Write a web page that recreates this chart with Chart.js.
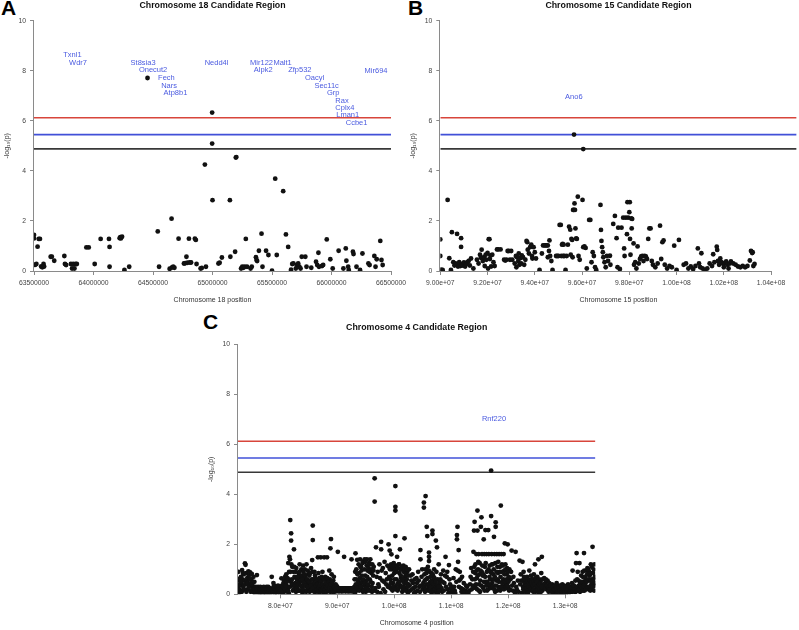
<!DOCTYPE html>
<html><head><meta charset="utf-8">
<script src="https://cdn.jsdelivr.net/npm/chart.js@4/dist/chart.umd.min.js"></script>
<style>
html,body{margin:0;padding:0;background:#fff}
body{width:799px;height:630px;position:relative;overflow:hidden;font-family:"Liberation Sans",Arial,sans-serif}
.letter{position:absolute;font-weight:bold;font-size:21px;line-height:21px;color:#000}
canvas{position:absolute}
</style></head><body>
<div class="letter" style="left:1px;top:-3px">A</div>
<div class="letter" style="left:408px;top:-3px">B</div>
<div class="letter" style="left:203px;top:311px">C</div>
<canvas id="cA" width="416" height="320" style="left:0;top:0"></canvas>
<canvas id="cB" width="399" height="320" style="left:400px;top:0"></canvas>
<canvas id="cC" width="629" height="310" style="left:170px;top:320px"></canvas>
<script>
const FONT='"Liberation Sans", Arial, sans-serif';
const yTickValues=[0,2,4,6,8,10];
const yTickLabels=['0','2','4','6','8','10'];
const thresholds=[6.12,5.45,4.88];

// ---- Chromosome 18 ----
const chr18Title='Chromosome 18 Candidate Region';
const chr18XTitle='Chromosome 18 position';
const chr18Ticks=[63500000,64000000,64500000,65000000,65500000,66000000,66500000];
const chr18TickLabels=['63500000','64000000','64500000','65000000','65500000','66000000','66500000'];
const chr18Genes=['Txnl1','Wdr7','St8sia3','Onecut2','Fech','Nars','Atp8b1','Nedd4l','Mir122','Malt1','Alpk2','Zfp532','Oacyl','Sec11c','Grp','Rax','Cplx4','Lman1','Ccbe1','Mir694'];
const chr18GenePos=[63.823,63.870,64.417,64.501,64.613,64.635,64.689,65.034,65.412,65.589,65.426,65.734,65.858,65.959,66.015,66.088,66.113,66.136,66.211,66.374];
const chr18GeneY=[8.64,8.33,8.33,8.03,7.71,7.40,7.13,8.33,8.33,8.33,8.03,8.03,7.73,7.41,7.12,6.81,6.53,6.23,5.91,8.01];
const chr18Points=[[63.50,1.44],[63.50,1.30],[63.51,0.25],[63.52,0.28],[63.53,0.97],[63.54,1.28],[63.55,1.28],[63.56,0.18],[63.57,0.15],[63.58,0.28],[63.585,0.18],[63.64,0.57],[63.65,0.57],[63.67,0.41],[63.755,0.60],[63.76,0.28],[63.77,0.24],[63.81,0.28],[63.82,0.10],[63.83,0.28],[63.84,0.10],[63.85,0.28],[63.86,0.28],[63.94,0.94],[63.96,0.94],[64.01,0.28],[64.06,1.28],[64.13,1.28],[64.135,0.96],[64.135,0.17],[64.22,1.31],[64.225,1.35],[64.23,1.30],[64.24,1.37],[64.26,0.04],[64.30,0.17],[64.454,7.71],[64.54,1.58],[64.551,0.17],[64.64,0.09],[64.656,2.09],[64.66,0.14],[64.67,0.17],[64.68,0.13],[64.715,1.29],[64.76,0.30],[64.77,0.31],[64.781,0.57],[64.79,0.33],[64.802,1.29],[64.81,0.34],[64.82,0.34],[64.852,1.29],[64.86,1.24],[64.866,0.28],[64.90,0.10],[64.91,0.12],[64.936,4.25],[64.945,0.17],[64.997,6.33],[64.997,5.09],[65.00,2.83],[65.05,0.30],[65.06,0.33],[65.079,0.54],[65.146,2.83],[65.15,0.57],[65.19,0.77],[65.196,4.53],[65.20,4.55],[65.24,0.10],[65.25,0.17],[65.26,0.13],[65.27,0.17],[65.28,1.28],[65.29,0.17],[65.32,0.10],[65.33,0.17],[65.365,0.55],[65.37,0.44],[65.375,0.40],[65.39,0.81],[65.412,1.49],[65.42,0.17],[65.45,0.81],[65.47,0.64],[65.50,0.01],[65.527,3.69],[65.54,0.64],[65.594,3.19],[65.617,1.46],[65.636,0.96],[65.66,0.05],[65.67,0.28],[65.68,0.30],[65.70,0.10],[65.71,0.24],[65.72,0.30],[65.73,0.17],[65.74,0.10],[65.75,0.57],[65.78,0.57],[65.79,0.17],[65.83,0.13],[65.87,0.37],[65.88,0.24],[65.89,0.73],[65.895,0.17],[65.92,0.20],[65.93,0.24],[65.96,1.26],[65.99,0.47],[66.01,0.10],[66.06,0.81],[66.10,0.10],[66.12,0.90],[66.125,0.41],[66.14,0.17],[66.145,0.04],[66.18,0.77],[66.185,0.68],[66.21,0.17],[66.24,0.04],[66.26,0.70],[66.31,0.30],[66.32,0.24],[66.36,0.60],[66.37,0.17],[66.38,0.47],[66.41,1.20],[66.42,0.44],[66.43,0.24]];

// ---- Chromosome 15 ----
const chr15Title='Chromosome 15 Candidate Region';
const chr15XTitle='Chromosome 15 position';
const chr15Ticks=[9.0e7,9.2e7,9.4e7,9.6e7,9.8e7,1.0e8,1.02e8,1.04e8];
const chr15TickLabels=['9.00e+07','9.20e+07','9.40e+07','9.60e+07','9.80e+07','1.00e+08','1.02e+08','1.04e+08'];
const chr15Genes=['Ano6'];
const chr15GenePos=[95.65];
const chr15GeneY=[6.97];
const chr15Points=[[90.00,1.26],[90.00,0.60],[90.03,0.05],[90.10,0.04],[90.31,2.84],[90.38,0.51],[90.45,0.04],[90.49,1.55],[90.55,0.35],[90.60,0.22],[90.65,0.30],[90.70,0.25],[90.71,1.48],[90.75,0.18],[90.80,0.35],[90.85,0.20],[90.88,1.31],[90.88,0.96],[90.90,0.28],[90.95,0.22],[91.00,0.34],[91.05,0.18],[91.10,0.28],[91.15,0.35],[91.20,0.40],[91.25,0.22],[91.30,0.50],[91.40,0.10],[91.55,0.45],[91.62,0.30],[91.68,0.65],[91.72,0.53],[91.75,0.85],[91.80,0.40],[91.85,0.55],[91.88,0.20],[91.92,0.65],[91.95,0.45],[92.00,0.72],[92.02,0.10],[92.05,1.27],[92.08,1.27],[92.10,0.48],[92.12,0.62],[92.15,0.18],[92.20,0.65],[92.25,0.35],[92.30,0.20],[92.40,0.86],[92.45,0.86],[92.55,0.86],[92.70,0.45],[92.75,0.42],[92.80,0.45],[92.85,0.80],[92.90,0.80],[92.95,0.45],[93.00,0.80],[93.05,0.45],[93.15,0.30],[93.20,0.60],[93.22,0.15],[93.25,0.55],[93.30,0.40],[93.32,0.70],[93.35,0.25],[93.40,0.52],[93.42,0.30],[93.45,0.62],[93.50,0.55],[93.55,0.25],[93.60,0.45],[93.65,1.20],[93.68,1.15],[93.70,0.85],[93.75,0.70],[93.80,0.95],[93.85,1.05],[93.88,0.60],[93.90,0.50],[93.95,0.95],[94.00,0.75],[94.05,0.50],[94.20,0.04],[94.30,0.70],[94.35,1.02],[94.40,1.02],[94.45,1.02],[94.50,1.02],[94.55,1.02],[94.55,0.55],[94.60,0.80],[94.62,1.22],[94.65,0.60],[94.70,0.40],[94.75,0.04],[94.90,0.60],[94.95,0.60],[95.00,0.60],[95.05,1.84],[95.10,1.84],[95.12,0.60],[95.15,1.05],[95.18,1.08],[95.20,0.60],[95.22,1.05],[95.25,0.60],[95.30,0.04],[95.35,0.60],[95.40,1.05],[95.45,1.77],[95.50,1.65],[95.52,0.65],[95.55,1.28],[95.58,1.24],[95.60,0.55],[95.62,2.44],[95.65,2.44],[95.66,5.45],[95.68,2.70],[95.70,2.44],[95.72,1.70],[95.75,1.30],[95.78,1.28],[95.82,2.97],[95.85,0.60],[95.90,0.45],[96.02,2.84],[96.05,4.87],[96.05,0.95],[96.10,0.98],[96.15,0.92],[96.20,0.10],[96.30,2.04],[96.35,2.04],[96.40,0.35],[96.45,0.75],[96.50,0.60],[96.55,0.15],[96.60,0.04],[96.78,2.64],[96.80,1.64],[96.82,1.20],[96.85,0.95],[96.88,0.75],[96.90,0.55],[96.95,0.35],[97.00,0.15],[97.05,0.60],[97.10,0.40],[97.18,0.61],[97.20,0.25],[97.32,1.88],[97.39,2.20],[97.46,1.31],[97.50,0.15],[97.53,1.73],[97.60,0.08],[97.67,1.73],[97.74,2.13],[97.78,0.90],[97.80,0.60],[97.85,2.13],[97.90,1.47],[97.92,2.75],[97.95,2.13],[98.00,2.35],[98.02,2.75],[98.03,1.28],[98.05,0.65],[98.08,2.10],[98.10,1.70],[98.12,2.08],[98.18,1.10],[98.20,0.25],[98.25,0.35],[98.30,0.10],[98.35,0.98],[98.40,0.30],[98.45,0.48],[98.50,0.58],[98.55,0.60],[98.60,0.40],[98.65,0.60],[98.70,0.58],[98.75,0.48],[98.80,1.28],[98.85,1.70],[98.90,1.70],[98.95,0.40],[99.00,0.25],[99.10,0.15],[99.20,0.30],[99.30,1.81],[99.35,0.48],[99.40,1.15],[99.45,1.22],[99.50,0.25],[99.60,0.10],[99.70,0.20],[99.80,0.15],[99.90,1.01],[100.00,0.04],[100.10,1.24],[100.30,0.25],[100.40,0.30],[100.50,0.10],[100.60,0.18],[100.70,0.08],[100.80,0.20],[100.90,0.90],[100.95,0.30],[101.00,0.15],[101.05,0.71],[101.10,0.10],[101.20,0.05],[101.30,0.10],[101.40,0.30],[101.50,0.20],[101.55,0.67],[101.60,0.35],[101.70,0.97],[101.72,0.84],[101.75,0.40],[101.80,0.25],[101.85,0.50],[101.90,0.35],[101.95,0.30],[102.00,0.15],[102.05,0.32],[102.10,0.38],[102.15,0.25],[102.20,0.10],[102.25,0.30],[102.30,0.38],[102.40,0.30],[102.50,0.25],[102.60,0.18],[102.70,0.15],[102.80,0.20],[102.90,0.15],[103.00,0.20],[103.10,0.42],[103.15,0.80],[103.20,0.72],[103.22,0.75],[103.25,0.20],[103.30,0.28]];

// ---- Chromosome 4 ----
const chr4Title='Chromosome 4 Candidate Region';
const chr4XTitle='Chromosome 4 position';
const chr4Ticks=[8.0e7,9.0e7,1.0e8,1.1e8,1.2e8,1.3e8];
const chr4TickLabels=['8.0e+07','9.0e+07','1.0e+08','1.1e+08','1.2e+08','1.3e+08'];
const chr4Genes=['Rnf220'];
const chr4GenePos=[117.5];
const chr4GeneY=[7.0];
const chr4Points=[[72.6,0.55],[72.6,0.25],[72.7,0.05],[72.8,0.62],[72.9,0.37],[73.0,0.15],[73.1,0.70],[73.2,0.45],[73.3,0.97],[73.4,0.60],[73.5,0.30],[73.6,0.80],[73.7,0.55],[73.8,1.24],[73.9,1.18],[74.0,0.85],[74.1,0.50],[74.2,0.65],[74.3,0.20],[74.4,0.92],[74.5,0.75],[74.6,0.35],[74.7,0.88],[74.8,0.10],[74.9,0.60],[75.0,0.82],[75.1,0.25],[75.2,0.30],[75.3,0.70],[75.4,0.12],[75.5,0.28],[75.6,0.05],[75.7,0.30],[75.9,0.77],[76.0,0.24],[76.2,0.13],[76.4,0.24],[76.6,0.13],[76.8,0.24],[77.0,0.10],[77.2,0.24],[77.4,0.13],[77.6,0.30],[77.8,0.15],[78.0,0.24],[78.2,0.05],[78.4,0.13],[78.5,0.70],[78.7,0.24],[78.9,0.35],[79.1,0.13],[79.3,0.24],[79.5,0.05],[79.7,0.13],[79.9,0.30],[80.2,0.64],[80.4,0.20],[80.6,0.10],[80.8,0.40],[81.0,0.60],[81.2,0.25],[81.4,1.25],[81.5,0.05],[81.6,1.50],[81.7,1.40],[81.75,2.97],[81.8,0.90],[81.9,2.44],[81.9,2.15],[82.0,0.35],[82.1,1.10],[82.2,0.15],[82.4,1.80],[82.5,0.70],[82.6,0.45],[82.8,1.05],[83.0,0.25],[83.2,0.85],[83.4,1.20],[83.5,0.50],[83.7,1.00],[83.8,0.30],[84.0,1.15],[84.1,0.60],[84.3,1.00],[84.4,0.15],[84.6,1.20],[84.7,0.40],[84.9,0.80],[85.0,0.25],[85.2,0.55],[85.4,1.05],[85.6,1.37],[85.7,2.75],[85.7,2.17],[85.8,0.60],[85.9,0.30],[86.0,0.90],[86.2,0.10],[86.4,0.45],[86.6,1.48],[86.7,0.85],[86.9,0.20],[87.1,1.48],[87.3,0.55],[87.5,0.30],[87.7,1.48],[87.9,0.70],[88.0,0.15],[88.2,1.48],[88.4,0.40],[88.6,0.95],[88.8,1.84],[88.9,2.21],[89.0,0.80],[89.1,0.25],[89.3,0.55],[89.5,0.10],[89.7,0.40],[89.9,0.24],[90.1,1.70],[90.2,0.13],[90.5,0.24],[90.8,0.13],[91.1,0.24],[91.2,1.50],[91.4,0.13],[91.7,0.24],[92.0,0.13],[92.3,0.24],[92.5,1.40],[92.6,0.13],[92.9,0.24],[93.2,1.64],[93.3,0.60],[93.5,1.38],[93.6,0.30],[93.8,0.85],[94.0,1.40],[94.1,0.45],[94.2,1.10],[94.4,0.20],[94.6,1.30],[94.8,1.40],[94.9,0.75],[95.0,0.10],[95.2,1.40],[95.3,0.95],[95.5,0.35],[95.6,1.25],[95.7,0.60],[95.8,1.40],[95.9,0.15],[96.0,0.85],[96.2,0.45],[96.4,1.10],[96.56,4.64],[96.56,3.71],[96.7,0.25],[96.8,1.88],[96.9,0.70],[97.0,0.10],[97.2,0.40],[97.4,1.20],[97.7,2.10],[97.7,1.80],[97.9,0.55],[98.0,1.05],[98.1,0.20],[98.3,1.30],[98.5,0.85],[98.6,0.40],[98.8,1.15],[99.0,2.00],[99.1,0.70],[99.2,1.75],[99.3,0.25],[99.5,1.60],[99.6,1.00],[99.8,0.45],[99.9,1.25],[100.2,4.33],[100.2,3.50],[100.2,3.35],[100.2,2.33],[100.3,1.10],[100.4,0.60],[100.5,1.50],[100.6,0.15],[100.8,1.20],[100.9,0.85],[101.0,1.80],[101.1,0.35],[101.3,1.00],[101.5,0.55],[101.6,1.15],[101.8,2.24],[101.9,0.70],[102.0,1.10],[102.1,0.20],[102.3,0.90],[102.5,0.40],[102.6,1.00],[102.8,0.15],[103.0,0.55],[103.2,0.80],[103.4,0.25],[103.6,0.60],[103.8,0.10],[104.0,0.45],[104.2,0.90],[104.4,0.30],[104.6,1.77],[104.6,1.40],[104.8,0.70],[105.0,0.20],[105.2,3.67],[105.2,3.47],[105.5,3.93],[105.7,2.70],[105.8,2.33],[105.9,1.10],[106.1,1.67],[106.1,1.50],[106.1,1.33],[106.3,0.50],[106.5,0.85],[106.7,2.55],[106.7,2.41],[106.8,0.25],[107.0,1.00],[107.3,2.15],[107.5,1.88],[107.6,0.60],[107.8,1.20],[108.0,0.35],[108.2,0.80],[108.4,0.10],[108.6,0.95],[108.8,0.45],[109.0,1.50],[109.2,0.70],[109.4,0.20],[109.6,1.17],[109.8,0.40],[110.0,0.10],[110.2,0.30],[110.4,0.65],[110.6,0.15],[110.8,1.00],[111.0,2.37],[111.0,2.20],[111.1,2.70],[111.2,1.30],[111.3,1.77],[111.4,0.55],[111.5,0.90],[111.7,0.25],[111.9,0.70],[112.0,0.10],[112.2,0.45],[112.5,0.15],[112.8,0.30],[113.0,0.05],[113.3,0.40],[113.5,1.05],[113.7,0.60],[113.9,1.70],[114.0,2.55],[114.1,2.90],[114.2,0.85],[114.4,1.61],[114.6,3.35],[114.6,2.55],[114.8,1.61],[114.9,0.40],[115.0,1.25],[115.2,2.70],[115.3,3.08],[115.4,1.61],[115.5,0.75],[115.7,2.20],[115.8,1.61],[116.0,2.57],[116.2,1.61],[116.4,0.95],[116.5,2.57],[116.6,1.61],[116.8,0.30],[117.0,4.95],[117.0,3.13],[117.1,1.61],[117.3,1.20],[117.5,2.30],[117.6,1.61],[117.8,2.88],[117.8,2.70],[118.0,1.61],[118.2,0.85],[118.4,1.61],[118.7,3.55],[118.8,1.61],[119.0,0.50],[119.2,1.61],[119.4,2.04],[119.5,1.20],[119.7,0.80],[119.9,2.00],[120.0,0.30],[120.2,1.00],[120.4,0.60],[120.6,1.75],[120.8,0.15],[121.0,0.45],[121.3,1.70],[121.5,0.20],[121.7,0.55],[122.0,1.35],[122.2,0.80],[122.5,1.30],[122.6,0.30],[122.9,0.65],[123.1,0.15],[123.3,0.70],[123.5,0.40],[123.7,0.95],[123.9,0.50],[124.1,0.25],[124.3,0.60],[124.5,0.80],[124.7,1.20],[124.9,0.35],[125.1,0.70],[125.3,1.40],[125.5,0.10],[125.7,0.55],[125.9,1.50],[126.1,0.30],[126.3,0.65],[126.5,0.45],[126.7,0.20],[126.9,0.55],[127.1,0.10],[127.3,0.35],[127.5,0.15],[127.7,0.40],[127.9,0.25],[128.1,0.10],[128.3,0.30],[128.5,0.45],[128.7,0.20],[128.9,0.35],[129.1,0.10],[129.3,0.25],[129.5,0.40],[129.7,0.15],[129.9,0.30],[130.1,0.05],[130.3,0.25],[130.5,0.40],[130.7,0.15],[130.9,0.30],[131.1,0.20],[131.3,0.95],[131.5,0.35],[131.7,0.10],[131.9,1.25],[132.0,1.65],[132.1,0.60],[132.3,0.25],[132.5,1.25],[132.7,0.45],[132.9,0.15],[133.1,0.70],[133.3,1.65],[133.5,0.30],[133.7,0.95],[133.9,1.05],[134.0,0.55],[134.1,0.20],[134.3,0.75],[134.5,1.20],[134.6,0.40],[134.8,1.90],[134.9,0.85],[135.0,1.00],[135.1,0.35],
[72.65,0.9],[72.75,0.35],[72.85,0.2],[73.05,0.5],[73.25,0.1],[73.45,0.85],[73.65,0.2],[73.85,0.4],[74.05,0.1],[74.25,0.45],[74.45,0.3],[74.65,0.6],[74.85,0.45],[75.05,0.4],[75.25,0.15],[75.45,0.5],[75.65,0.2],[75.8,0.1],[76.1,0.3],[76.3,0.05],[76.5,0.3],[76.7,0.2],[76.9,0.05],[77.1,0.3],[77.3,0.2],[77.5,0.05],[77.7,0.2],[77.9,0.3],[78.1,0.13],[78.3,0.24],[78.6,0.15],[78.8,0.45],[79.0,0.05],[79.2,0.3],[79.4,0.15],[79.6,0.35],[79.8,0.1],[80.0,0.25],[80.3,0.35],[80.5,0.05],[80.7,0.55],[80.9,0.15],[81.1,0.35],[81.3,0.1],[81.45,0.6],[81.55,0.9],[81.65,0.3],[81.85,0.5],[81.95,1.2],[82.05,0.6],[82.15,0.4],[82.3,0.9],[82.35,0.2],[82.45,1.1],[82.55,0.3],[82.7,0.9],[82.75,0.1],[82.9,0.6],[83.1,0.4],[83.3,0.15],[83.45,0.7],[83.6,0.35],[83.75,0.75],[83.9,0.05],[84.05,0.9],[84.2,0.35],[84.35,0.7],[84.5,0.5],[84.65,0.3],[84.8,0.95],[84.95,0.15],[85.1,0.75],[85.3,0.2],[85.5,0.4],[85.65,0.9],[85.85,0.45],[86.05,0.25],[86.15,0.6],[86.3,0.3],[86.5,0.15],[86.8,0.55],[87.0,0.1],[87.2,0.3],[87.4,0.9],[87.6,0.05],[87.8,0.35],[88.1,0.55],[88.3,0.2],[88.5,0.3],[88.7,0.6],[89.2,0.4],[89.4,0.7],[89.6,0.2],[89.8,0.13],[90.0,0.3],[90.3,0.24],[90.4,0.13],[90.6,0.24],[90.7,0.13],[90.9,0.24],[91.0,0.13],[91.3,0.24],[91.5,0.13],[91.6,0.24],[91.8,0.13],[91.9,0.24],[92.1,0.13],[92.2,0.24],[92.4,0.13],[92.7,0.24],[92.8,0.13],[93.0,0.3],[93.1,0.05],[93.4,0.15],[93.7,0.45],[93.9,0.2],[94.3,0.75],[94.5,0.1],[94.7,0.35],[95.1,0.55],[95.4,0.2],[96.1,0.1],[96.3,0.75],[96.6,0.15],[97.1,0.9],[97.3,0.3],[97.5,0.65],[97.6,0.05],[97.8,0.95],[98.2,0.5],[98.4,0.1],[98.7,0.6],[98.9,0.3],[99.4,0.45],[99.7,0.15],[100.0,0.85],[100.1,0.3],[100.7,0.45],[101.2,0.65],[101.4,0.1],[101.7,0.3],[102.2,0.6],[102.4,0.05],[102.7,0.35],[102.9,0.75],[103.1,0.2],[103.3,0.45],[103.5,0.05],[103.7,0.3],[103.9,0.65],[104.1,0.15],[104.3,0.55],[104.5,0.1],[104.7,0.35],[104.9,1.0],[105.1,0.45],[105.3,0.8],[105.4,0.1],[105.6,0.6],[106.0,0.3],[106.2,0.9],[106.4,0.15],[106.6,0.55],[106.9,0.7],[107.1,0.4],[107.2,0.1],[107.4,0.9],[107.7,0.2],[107.9,0.45],[108.1,0.6],[108.3,0.25],[108.5,0.5],[108.7,0.15],[108.9,0.75],[109.1,0.3],[109.3,0.9],[109.5,0.05],[109.7,0.6],[109.9,0.25],[110.1,0.05],[110.3,0.15],[110.5,0.3],[110.7,0.05],[110.9,0.5],[111.15,0.95],[111.35,0.3],[111.6,0.6],[111.8,0.1],[112.1,0.2],[112.3,0.05],[112.6,0.35],[112.9,0.1],[113.2,0.15],[113.4,0.7],[113.6,0.2],[113.8,0.35],[114.05,1.1],[114.3,0.25],[114.5,0.65],[114.7,1.0],[114.85,0.15],[115.1,0.55],[115.35,0.9],[115.6,0.25],[115.9,1.1],[116.1,0.5],[116.3,0.15],[116.7,0.7],[116.9,0.9],[117.2,0.45],[117.4,0.8],[117.7,0.1],[117.9,0.55],[118.1,1.1],[118.3,0.3],[118.5,0.9],[118.6,0.15],[118.9,1.2],[119.1,0.3],[119.3,0.95],[119.6,0.4],[119.8,1.05],[120.1,0.7],[120.3,0.2],[120.5,0.9],[120.7,0.35],[120.9,0.7],[121.2,0.05],[121.4,0.3],[121.8,0.1],[122.1,0.4],[122.3,0.55],[122.4,0.05],[122.7,0.9],[122.8,0.25],[123.0,0.45],[123.2,0.55],[123.4,0.2],[123.6,0.6],[123.8,0.3],[124.0,0.75],[124.2,0.45],[124.4,0.1],[124.6,0.5],[124.8,0.65],[125.0,0.2],[125.2,0.45],[125.4,0.6],[125.6,0.3],[125.8,0.85],[126.0,0.15],[126.2,0.4],[126.4,0.25],[126.6,0.6],[126.8,0.35],[127.0,0.25],[127.2,0.45],[127.4,0.2],[127.6,0.3],[127.8,0.05],[128.0,0.35],[128.2,0.2],[128.4,0.1],[128.6,0.3],[128.8,0.15],[129.0,0.25],[129.2,0.05],[129.4,0.3],[129.6,0.2],[129.8,0.35],[130.0,0.2],[130.2,0.1],[130.4,0.3],[130.6,0.05],[130.8,0.2],[131.0,0.1],[131.2,0.45],[131.4,0.15],[131.6,0.3],[131.8,0.55],[132.2,0.9],[132.4,0.35],[132.6,0.1],[132.8,0.75],[133.0,0.3],[133.2,0.5],[133.4,0.15],[133.6,0.6],[133.8,0.25],[134.2,0.9],[134.4,0.15],[134.7,0.6],[135.2,0.7],
[75.1,0.18],[75.3,0.08],[75.5,0.2],[75.7,0.1],[75.85,0.2],[76.05,0.1],[76.15,0.2],[76.25,0.08],[76.35,0.18],[76.45,0.1],[76.55,0.2],[76.65,0.08],[76.75,0.18],[76.85,0.1],[76.95,0.2],[77.05,0.18],[77.15,0.08],[77.25,0.2],[77.35,0.1],[77.45,0.18],[77.55,0.08],[77.65,0.2],[77.75,0.1],[77.85,0.2],[77.95,0.08],[78.05,0.18],[78.15,0.1],[78.25,0.2],[78.35,0.08],[78.45,0.2],[78.55,0.1],[78.65,0.18],[78.75,0.08],[78.85,0.2],[78.95,0.12],[79.05,0.2],[79.15,0.08],[79.25,0.18],[79.35,0.1],[79.45,0.2],[79.55,0.12],[79.65,0.2],[79.75,0.08],[79.85,0.18],[79.95,0.1],[80.1,0.15],[80.25,0.05],[80.45,0.3],[80.55,0.45],[80.75,0.25],[80.85,0.7],[80.95,0.35],[81.05,0.8],[81.15,0.5],[81.25,0.65],[81.35,0.15],
[82.85,0.25],[83.05,0.7],[83.15,0.15],[83.25,0.5],[83.35,0.9],[83.55,0.15],[83.65,0.55],[83.85,0.6],[83.95,0.2],[84.15,0.45],[84.25,0.8],[84.45,0.35],[84.55,0.1],[84.75,0.6],[84.85,0.3],[85.05,0.5],[85.15,0.1],[85.25,0.85],[85.35,0.35],[85.45,0.15],[85.55,0.6],[85.75,0.25],[85.95,0.1],[86.1,0.75],[86.25,0.35],[86.35,0.6],[86.45,0.2],[86.55,0.4],[86.65,0.1],[86.75,0.3],[86.85,0.65],[86.95,0.35],[87.05,0.5],[87.15,0.2],[87.25,0.7],[87.35,0.15],[87.45,0.4],[87.55,0.25],[87.65,0.6],[87.75,0.1],[87.85,0.2],[87.95,0.45],[88.05,0.3],[88.15,0.1],[88.25,0.65],[88.35,0.35],[88.45,0.15],[88.55,0.5],[88.65,0.25],[88.75,0.1],[88.85,0.4],[88.95,0.15],[89.05,0.5],[89.15,0.1],[89.25,0.2],[89.35,0.12],[89.45,0.25],[89.55,0.3],[89.65,0.13],[89.75,0.24],[89.85,0.35],[89.95,0.13],[90.05,0.24],[90.15,0.13],[90.25,0.24],[90.35,0.13],[90.45,0.24],[90.55,0.13],[90.65,0.24],[90.75,0.13],[90.85,0.24],[90.95,0.13],[91.05,0.24],[91.15,0.13],[91.25,0.24],[91.35,0.13],[91.45,0.24],[91.55,0.13],[91.65,0.24],[91.75,0.13],[91.85,0.24],[91.95,0.13],[92.05,0.24],[92.15,0.13],[92.25,0.24],[92.35,0.13],[92.45,0.24],[92.55,0.13],[92.65,0.24],[92.75,0.13],[92.85,0.24],[92.95,0.13],
[93.05,0.6],[93.15,0.9],[93.25,0.4],[93.35,1.0],[93.45,0.25],[93.55,0.8],[93.65,0.55],[93.75,1.2],[93.85,0.15],[93.95,0.65],[94.05,1.1],[94.15,0.3],[94.25,0.95],[94.35,0.5],[94.45,1.25],[94.55,0.6],[94.65,0.15],[94.75,1.0],[94.85,0.45],[94.95,1.3],[95.05,0.25],[95.15,1.15],[95.25,0.7],[95.35,0.4],[95.45,1.05],[95.55,0.15],[95.65,0.9],[95.75,1.2],[95.85,0.5],[95.95,1.0],[96.05,0.3],[96.15,1.2],[96.25,0.15],[96.35,0.95],
[99.05,1.1],[99.15,0.35],[99.25,1.0],[99.35,0.6],[99.45,1.2],[99.55,0.2],[99.65,0.75],[99.75,1.1],[99.85,0.3],[99.95,1.15],[100.05,0.6],[100.15,1.0],[100.25,0.2],[100.35,0.9],[100.45,1.15],[100.55,0.4],[100.65,1.05],[100.75,0.25],[100.85,1.2],[100.95,0.5],[101.05,1.0],[101.15,0.75],[101.25,0.3],[101.35,1.1],[101.45,0.6],[101.55,0.2],[101.65,0.9],[101.75,0.45],[101.85,1.0],[101.95,0.15],[102.05,0.8],[102.15,0.45],[102.25,1.0],[102.35,0.3],[102.45,0.75],
[105.25,0.3],[105.35,0.55],[105.45,1.0],[105.55,0.2],[105.65,0.85],[105.75,0.4],[105.85,0.65],[105.95,0.15],[106.05,0.95],[106.15,0.4],[106.25,0.15],[106.35,0.7],[106.45,0.3],[106.55,0.05],[106.65,0.45],[106.75,0.8],[106.85,0.15],[106.95,0.4],[107.05,0.65],[107.15,0.2],[107.25,0.5],[107.35,0.3],[107.45,0.1],[107.55,0.35],[107.65,0.05],[107.75,0.3],[107.85,0.15],
[113.85,0.9],[113.95,0.3],[114.15,0.6],[114.25,1.2],[114.35,0.4],[114.45,0.95],[114.55,0.2],[114.65,0.75],[114.75,1.3],[114.95,0.8],[115.05,0.1],[115.15,0.95],[115.25,0.35],[115.45,1.15],[115.55,0.3],[115.65,0.8],[115.75,0.5],[115.85,0.15],[115.95,0.7],[116.05,1.25],[116.15,0.35],[116.25,0.9],[116.35,0.5],[116.45,0.2],[116.55,1.0],[116.65,0.4],[116.75,1.15],[116.85,0.6],[116.95,0.25],[117.05,0.85],[117.15,1.2],[117.25,0.3],[117.35,0.6],[117.45,1.0],[117.55,0.2],[117.65,0.7],[117.75,1.25],[117.85,0.35],[117.95,0.9],[118.05,0.15],[118.15,0.6],[118.25,1.3],[118.35,0.5],[118.45,0.25],[118.55,1.1],[118.65,0.7],[118.75,0.3],[118.85,0.9],[118.95,0.45],[119.05,1.15],[119.15,0.6],[119.25,0.2],[119.35,0.8],[119.45,0.5],[119.55,1.0],[119.65,0.25],[119.75,0.6],[119.85,0.35],[119.95,0.9],[120.05,0.5],[120.15,0.15],
[122.55,0.55],[122.65,0.2],[122.75,0.7],[122.85,0.45],[122.95,0.1],[123.05,0.6],[123.15,0.35],[123.25,0.25],[123.35,0.5],[123.45,0.05],[123.55,0.3],[123.65,0.45],[123.75,0.15],[123.85,0.55],[123.95,0.2],[124.05,0.45],[124.15,0.6],[124.25,0.15],[124.35,0.35],[124.45,0.5],[124.55,0.2],[124.65,0.4],[124.75,0.1],[124.85,0.55],[124.95,0.3],[125.05,0.5],[125.15,0.15],[125.25,0.3],[125.35,0.05],[125.45,0.4],[125.55,0.2],[125.65,0.45],[125.75,0.1],[125.85,0.3],[125.95,0.6],
[127.05,0.15],[127.25,0.2],[127.45,0.35],[127.65,0.1],[127.85,0.3],[128.05,0.2],[128.25,0.35],[128.45,0.25],[128.65,0.1],[128.85,0.3],[129.05,0.15],[129.25,0.35],[129.45,0.1],[129.65,0.25],[129.85,0.1],[130.05,0.3],[130.25,0.15],[130.45,0.2],[130.65,0.3],[130.85,0.1],[131.05,0.25],[131.25,0.1],[131.45,0.35],[131.65,0.2],[131.85,0.1],[132.05,0.3],[132.15,0.15],[132.35,0.55],[132.45,0.2],[132.65,0.45],[132.75,0.3],[132.85,0.5],[132.95,0.25],[133.05,0.9],[133.15,0.15],[133.25,0.35],[133.35,0.95],[133.45,0.4],[133.55,0.7],[133.65,0.2],[133.75,0.5],[133.85,0.8],[133.95,0.3],[134.05,1.0],[134.15,0.6],[134.25,0.3],[134.35,0.55],[134.45,0.85],[134.55,0.2],[134.65,1.1],[134.75,0.5],[134.85,0.3],[134.95,0.6],[135.05,0.15],[135.15,1.2],[135.25,0.45]];

const lineColors=['#d8453b','#4150d8','#383838'];
const axisColor='#8a8a8a';
const geneColor='#4b5be0';

function panel(id,o){
  const ds=[{type:'scatter',data:o.points.map(p=>({x:p[0]*1e6,y:p[1]})),pointRadius:2.4,pointHoverRadius:2.4,backgroundColor:'#111',borderWidth:0}];
  thresholds.forEach((t,i)=>ds.push({type:'line',data:[{x:o.xMin,y:t},{x:o.xMax,y:t}],borderColor:lineColors[i],borderWidth:1.6,pointRadius:0,fill:false,tension:0}));
  const decor={id:'decor',
    afterDatasetsDraw(chart){
      const c=chart.ctx,xs=chart.scales.x,ys=chart.scales.y,a=chart.chartArea;
      c.save();
      c.fillStyle=geneColor;c.font='7.5px '+FONT;c.textAlign='center';c.textBaseline='middle';
      o.genes.forEach((g,i)=>c.fillText(g,xs.getPixelForValue(o.genePos[i]*1e6),ys.getPixelForValue(o.geneY[i])));
      c.strokeStyle=axisColor;c.lineWidth=1;
      c.beginPath();
      const x0=xs.getPixelForValue(o.ticks[0]),x1=xs.getPixelForValue(o.ticks[o.ticks.length-1]);
      c.moveTo(x0,Math.round(a.bottom)+0.5);c.lineTo(x1,Math.round(a.bottom)+0.5);
      c.moveTo(Math.round(a.left)-0.5,ys.getPixelForValue(0));c.lineTo(Math.round(a.left)-0.5,ys.getPixelForValue(10));
      c.stroke();
      c.fillStyle='#111';c.font='bold 8.8px '+FONT;c.textBaseline='middle';
      c.fillText(o.title,(a.left+a.right)/2,o.titleY);
      c.fillStyle='#333';c.font='7px '+FONT;
      c.fillText(o.xTitle,(a.left+a.right)/2,o.xTitleY);
      c.translate(a.left-27,(a.top+a.bottom)/2);c.rotate(-Math.PI/2);
      c.font='7px '+FONT;c.fillText('-log\u2081\u2080(p)',0,0);
      c.restore();
    }};
  new Chart(document.getElementById(id),{
    type:'scatter',
    data:{datasets:ds},
    options:{responsive:false,animation:false,events:[],
      layout:{padding:{left:0,top:o.area.top,right:o.W-o.area.right,bottom:o.H-o.area.bottom-30}},
      plugins:{legend:{display:false},tooltip:{enabled:false},title:{display:false}},
      scales:{
        x:{type:'linear',min:o.xMin,max:o.xMax,
          afterBuildTicks:s=>{s.ticks=o.ticks.map(v=>({value:v}));},
          afterFit:s=>{s.height=30;s.paddingLeft=0;s.paddingRight=0;},
          ticks:{autoSkip:false,maxRotation:0,minRotation:0,padding:4,color:'#444',font:{family:FONT,size:6.8},
            callback:v=>o.tickLabels[o.ticks.indexOf(v)]},
          grid:{drawOnChartArea:false,drawTicks:true,tickLength:4,color:axisColor,tickColor:axisColor},
          border:{display:false}},
        y:{type:'linear',min:0,max:10,
          afterBuildTicks:s=>{s.ticks=yTickValues.map(v=>({value:v}));},
          afterFit:s=>{s.width=o.area.left;s.paddingTop=0;s.paddingBottom=0;},
          ticks:{autoSkip:false,padding:4,color:'#444',font:{family:FONT,size:6.8},
            callback:v=>yTickLabels[yTickValues.indexOf(v)]},
          grid:{drawOnChartArea:false,drawTicks:true,tickLength:4,color:axisColor,tickColor:axisColor},
          border:{display:false}}
      }
    },
    plugins:[decor]
  });
}

panel('cA',{points:chr18Points,xMin:63.5e6,xMax:66.5e6,ticks:chr18Ticks,tickLabels:chr18TickLabels,
  genes:chr18Genes,genePos:chr18GenePos,geneY:chr18GeneY,title:chr18Title,xTitle:chr18XTitle,
  W:416,H:320,area:{left:34,right:391,top:20.7,bottom:271},titleY:5.5,xTitleY:300});
panel('cB',{points:chr15Points,xMin:90.0e6,xMax:105.08e6,ticks:chr15Ticks,tickLabels:chr15TickLabels,
  genes:chr15Genes,genePos:chr15GenePos,geneY:chr15GeneY,title:chr15Title,xTitle:chr15XTitle,
  W:399,H:320,area:{left:40.3,right:396.7,top:20.7,bottom:271},titleY:5.5,xTitleY:300});
panel('cC',{points:chr4Points,xMin:72.58e6,xMax:135.3e6,ticks:chr4Ticks,tickLabels:chr4TickLabels,
  genes:chr4Genes,genePos:chr4GenePos,geneY:chr4GeneY,title:chr4Title,xTitle:chr4XTitle,
  W:629,H:310,area:{left:68,right:425.4,top:24.3,bottom:274.3},titleY:7.3,xTitleY:303});
</script>
</body></html>
